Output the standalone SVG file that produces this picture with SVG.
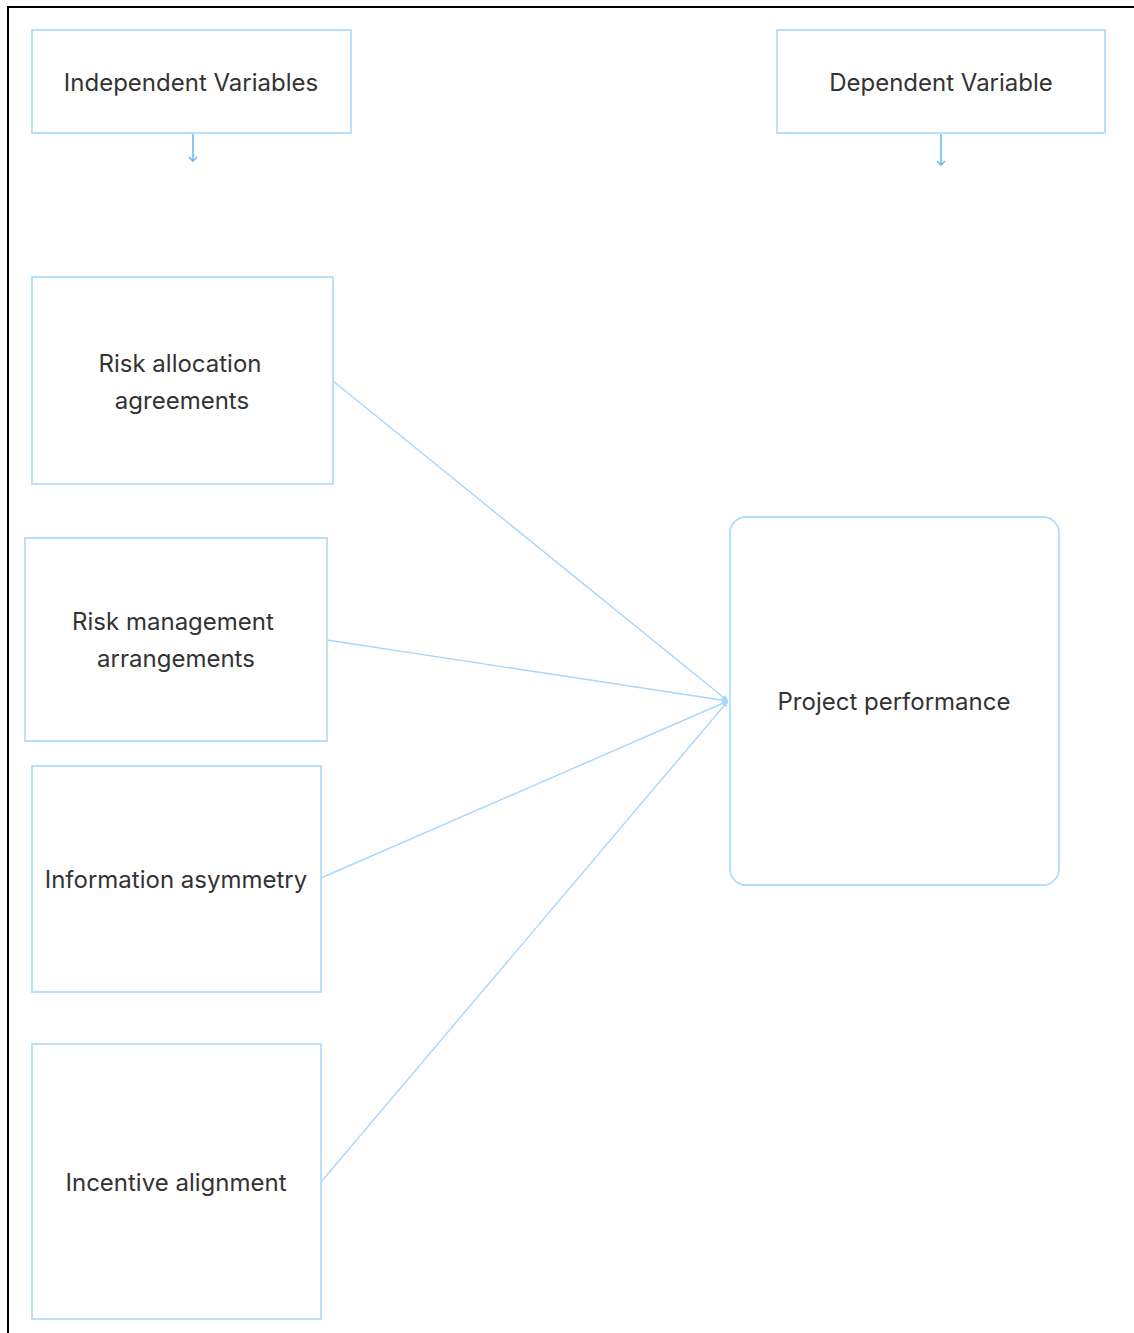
<svg xmlns="http://www.w3.org/2000/svg" width="1134" height="1333" viewBox="0 0 1134 1333">
<defs>
<style>
.box{fill:#fff;stroke:#b5dcfc;stroke-width:1.8}
.lbl{font-family:Inter,"Noto Sans",sans-serif;font-size:24px;fill:#333;text-anchor:middle;dominant-baseline:central}
.conn{stroke:#a9d6fb;stroke-width:1.4;fill:none}
.arr{stroke:#6fb9f3;stroke-width:1.6;fill:none}
</style>
<marker id="ah" markerWidth="10" markerHeight="10" refX="5" refY="5" orient="auto" markerUnits="userSpaceOnUse">
<path d="M1,1 L5,5 L1,9" fill="none" stroke="#6fb9f3" stroke-width="1.6"/>
</marker>
<marker id="ah2" markerWidth="8" markerHeight="8" refX="6" refY="4" orient="auto" markerUnits="userSpaceOnUse">
<path d="M0,1 L6,4 L0,7 Z" fill="#a9d6fb"/>
</marker>
</defs>
<rect width="1134" height="1333" fill="#fff"/>
<path d="M8,1333 V7 H1134" fill="none" stroke="#000" stroke-width="2"/>

<g id="connectors">
<line class="arr" x1="193" y1="134" x2="193" y2="161" marker-end="url(#ah)"/>
<line class="arr" x1="941" y1="134" x2="941" y2="165" marker-end="url(#ah)"/>
<line class="conn" x1="333" y1="381" x2="728" y2="701" marker-end="url(#ah2)"/>
<line class="conn" x1="327" y1="640" x2="728" y2="701" marker-end="url(#ah2)"/>
<line class="conn" x1="321" y1="878" x2="728" y2="701" marker-end="url(#ah2)"/>
<line class="conn" x1="321" y1="1182" x2="728" y2="701" marker-end="url(#ah2)"/>
</g>

<g id="independent-variables">
<rect class="box" x="32" y="30" width="319" height="103"/>
<text class="lbl" x="191" y="82">Independent Variables</text>
</g>
<g id="dependent-variable">
<rect class="box" x="777" y="30" width="328" height="103"/>
<text class="lbl" x="941" y="82">Dependent Variable</text>
</g>
<g id="risk-allocation">
<rect class="box" x="32" y="277" width="301" height="207"/>
<text class="lbl" x="180" y="363">Risk allocation</text>
<text class="lbl" x="182" y="400">agreements</text>
</g>
<g id="risk-management">
<rect class="box" x="25" y="538" width="302" height="203"/>
<text class="lbl" x="173" y="621">Risk management</text>
<text class="lbl" x="176" y="658">arrangements</text>
</g>
<g id="information-asymmetry">
<rect class="box" x="32" y="766" width="289" height="226"/>
<text class="lbl" x="176" y="879">Information asymmetry</text>
</g>
<g id="incentive-alignment">
<rect class="box" x="32" y="1044" width="289" height="275"/>
<text class="lbl" x="176" y="1182">Incentive alignment</text>
</g>
<g id="project-performance">
<rect class="box" x="730" y="517" width="329" height="368" rx="16"/>
<text class="lbl" x="894" y="701">Project performance</text>
</g>
</svg>
